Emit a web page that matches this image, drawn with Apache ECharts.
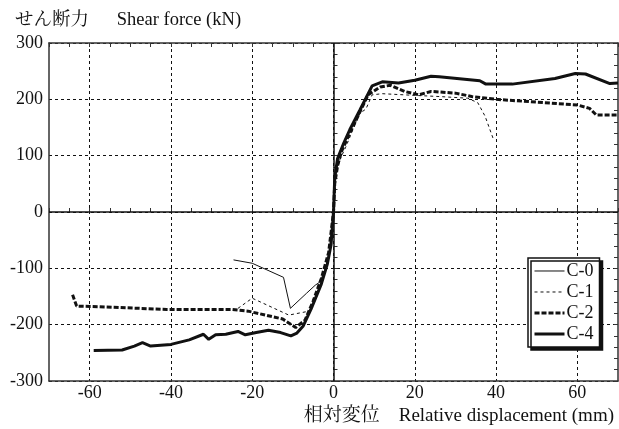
<!DOCTYPE html>
<html>
<head>
<meta charset="utf-8">
<script src="https://cdn.jsdelivr.net/npm/echarts@6/dist/echarts.min.js"></script>
<style>
  html, body { margin: 0; padding: 0; background: #fff; }
  #chart { width: 619px; height: 429px; }
</style>
</head>
<body>
<div id="chart"></div>
<script>
(function() {
  var ink = '#111';
  var font = 'Liberation Serif, Noto Serif CJK JP, Noto Sans CJK JP, serif';

  // tick values
  var xTicks = [-60, -40, -20, 0, 20, 40, 60];
  var yTicks = [-300, -200, -100, 0, 100, 200, 300];

  // load - displacement curves [mm, kN]
  var c0 = [[-24.6, -85], [-20, -91], [-12.3, -116], [-10.6, -171], [-6.6, -144], [-4.5, -130],
    [-3.3, -124], [-2, -100], [-1, -70], [0, 0]];
  var c1 = [[-23.5, -171], [-20, -153], [-11, -183], [-6, -176], [-4, -145], [-2.5, -115], [-1, -70],
    [0, 0], [0.5, 65], [1.5, 92], [3, 115], [5, 150], [6.5, 175], [8, 183], [9.5, 208], [12, 210],
    [20, 207], [26, 205], [33, 202], [35.5, 194], [37.3, 170], [39.3, 130]];
  var c2 = [[-64.2, -147], [-63.2, -167], [-58, -168], [-41, -173], [-25, -173], [-21, -176],
    [-12.5, -190], [-9.3, -205], [-7, -192], [-5, -158], [-3, -118], [-1.2, -72], [0, 0], [0.3, 50],
    [1, 82], [2, 108], [4, 140], [6, 170], [8.5, 208], [11.5, 222], [14, 225], [17.5, 214], [21, 208],
    [24, 214], [30, 211], [34, 205], [40, 200], [50, 195], [60, 190], [63, 184], [64.7, 172], [70, 172]];
  var c4 = [[-59, -246], [-52, -245], [-49, -238], [-47, -232], [-45, -238], [-40, -235],
    [-35.5, -227], [-32, -217], [-30.7, -226], [-29, -218], [-26.5, -217], [-23.5, -212],
    [-21.7, -218], [-19, -214], [-16, -210], [-13, -214], [-10.5, -220], [-9, -215], [-7.5, -203],
    [-5.5, -172], [-3, -128], [-1.5, -92], [-0.6, -58], [0, 0], [0.3, 60], [1, 95], [2.5, 122],
    [4, 146], [6.5, 181], [9.5, 224], [12, 231], [16, 229], [20, 234], [24, 241], [26, 240],
    [36, 233], [37.5, 227], [44, 227], [54.5, 237], [59.5, 246], [62, 245], [68, 228], [70, 229]];

  var names = ['C-0', 'C-1', 'C-2', 'C-4'];
  var styles = [
    { color: ink, width: 1, type: 'solid' },
    { color: ink, width: 1, type: [3, 3] },
    { color: ink, width: 3, type: [5, 2] },
    { color: ink, width: 3, type: 'solid' }
  ];
  var curves = [c0, c1, c2, c4];

  var dash = { color: ink, width: 1, type: [3, 3] };
  var border = { show: true, onZero: false, lineStyle: { color: '#333', width: 1.5 } };
  var noLabel = { show: false };
  var inTick = { show: true, inside: true, length: 4, lineStyle: { color: '#333' } };
  var tickFont = { fontFamily: font, fontSize: 18, color: ink };

  var series = curves.map(function(d, i) {
    return {
      name: names[i], type: 'line', data: d, symbol: 'none',
      lineStyle: styles[i], itemStyle: { color: ink }
    };
  });
  series[0].markLine = {
    silent: true, symbol: 'none', label: { show: false },
    lineStyle: { color: ink, width: 1.5, type: 'solid' },
    data: [{ xAxis: 0 }, { yAxis: 0 }]
  };

  var chart = echarts.init(document.getElementById('chart'), null, { renderer: 'canvas' });
  chart.setOption({
    animation: false,
    grid: { left: 49, right: 1, top: 43, bottom: 48 },
    title: [{
      text: 'せん断力　  Shear force (kN)',
      left: 10, top: 6,
      textStyle: { fontFamily: font, fontSize: 18.5, fontWeight: 'normal', color: ink }
    }, {
      text: '相対変位　Relative displacement (mm)',
      right: 0, top: 402,
      textStyle: { fontFamily: font, fontSize: 19, fontWeight: 'normal', color: ink }
    }],
    legend: {
      orient: 'vertical',
      left: 528, top: 258,
      padding: [4, 6, 4, 5],
      itemGap: 3,
      itemWidth: 30, itemHeight: 14,
      backgroundColor: '#fff',
      borderColor: ink, borderWidth: 1.5,
      shadowColor: ink, shadowBlur: 0, shadowOffsetX: 3, shadowOffsetY: 3,
      itemStyle: { opacity: 0 },
      textStyle: { fontFamily: font, fontSize: 18, color: ink, padding: [0, 0, 0, -3] },
      data: names.map(function(n, i) { return { name: n, lineStyle: styles[i] }; })
    },
    xAxis: [{
      type: 'value', position: 'bottom', min: -70, max: 70,
      axisLine: border,
      axisTick: { show: false, customValues: xTicks },
      axisLabel: Object.assign({ customValues: xTicks, margin: 3 }, tickFont),
      splitLine: { show: true, lineStyle: dash }
    }, {
      type: 'value', position: 'bottom', min: -70, max: 70, interval: 5,
      axisLine: { show: false }, axisTick: inTick,
      axisLabel: noLabel, splitLine: { show: false }
    }, {
      type: 'value', position: 'top', min: -70, max: 70, interval: 5,
      axisLine: border, axisTick: inTick,
      axisLabel: noLabel, splitLine: { show: false }
    }],
    yAxis: [{
      type: 'value', position: 'left', min: -300, max: 300, interval: 100,
      axisLine: border,
      axisTick: { show: false, customValues: yTicks },
      axisLabel: Object.assign({ customValues: yTicks, margin: 6 }, tickFont),
      splitLine: { show: true, lineStyle: dash }
    }, {
      type: 'value', position: 'left', min: -300, max: 300, interval: 20,
      axisLine: { show: false }, axisTick: inTick,
      axisLabel: noLabel, splitLine: { show: false }
    }, {
      type: 'value', position: 'right', min: -300, max: 300, interval: 20,
      axisLine: border, axisTick: inTick,
      axisLabel: noLabel, splitLine: { show: false }
    }],
    series: series
  });
  window.addEventListener('resize', function() { chart.resize(); });
})();
</script>
</body>
</html>
